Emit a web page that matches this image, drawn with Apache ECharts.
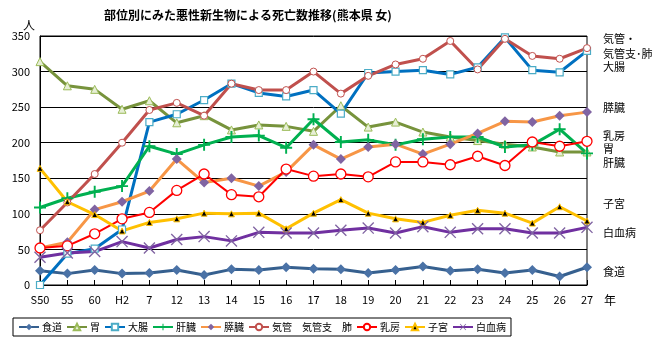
<!DOCTYPE html>
<html><head><meta charset="utf-8">
<script src="https://cdn.jsdelivr.net/npm/echarts@6/dist/echarts.min.js"></script>
<style>html,body{margin:0;padding:0;background:#fff}#c{width:661px;height:347px}</style>
</head><body><div id="c"></div>
<script>
const categories = ['S50','55','60','H2','7','12','13','14','15','16','17','18','19','20','21','22','23','24','25','26','27'];
const yTicks = [0,50,100,150,200,250,300,350];
const shokudo = [20,16,21,16,17,21,14,22,21,25,23,22,17,21,26,20,22,17,21,12,25];
const i_ = [314,280,275,247,259,228,238,218,225,223,216,252,222,229,215,208,203,198,194,187,187];
const daicho = [0,44,51,78,229,240,260,283,270,265,274,241,298,300,302,296,306,348,302,299,329];
const kanzo = [109,122,131,139,195,184,197,208,210,193,233,201,204,197,205,208,208,194,197,219,185];
const suizo = [52,60,106,117,132,177,144,150,139,159,197,177,194,198,184,198,213,230,229,238,243];
const hai = [77,116,156,200,246,256,238,283,274,274,300,269,294,310,318,343,303,346,322,318,333];
const nyubo = [52,55,72,93,102,133,156,127,124,163,153,156,152,173,173,169,181,168,201,195,202];
const shikyu = [164,117,99,76,88,93,101,100,101,79,101,120,101,93,88,98,105,101,87,110,90];
const hakketsu = [39,45,47,61,52,64,68,62,74,73,73,77,80,73,82,74,79,79,73,73,81];

const seriesNames = ['食道','胃','大腸','肝臓','膵臓','気管　気管支　肺','乳房','子宮','白血病'];
const rightLabels = [['気管・',40],['気管支･肺',55],['大腸',68],['膵臓',109],['乳房',137],['胃',150],['肝臓',164],['子宮',205],['白血病',234],['食道',273]];

const PLUS = 'path://M4.2,0H5.8V10H4.2Z M0,4.2H10V5.8H0Z';
const CROSS = 'path://M0,0.8L0.8,0L10,9.2L9.2,10Z M9.2,0L10,0.8L0.8,10L0,9.2Z';
const FONT = '"Noto Sans CJK JP", "Noto Sans", sans-serif';

function mk(name, data, lineColor, width, symbol, size, fill, border, bw){
  return {name, type:'line', data, symbol, symbolSize:size, showAllSymbol:true,
    lineStyle:{color:lineColor, width},
    itemStyle:{color:fill, borderColor:border, borderWidth:bw},
    emphasis:{disabled:true}, animation:false};
}

const chart = echarts.init(document.getElementById('c'));
chart.setOption({
  animation:false,
  textStyle:{fontFamily:FONT},
  title:{text:'部位別にみた悪性新生物による死亡数推移(熊本県 女)', left:243, top:4, textAlign:'center',
    textStyle:{fontSize:12, fontWeight:'bold', color:'#000', fontFamily:FONT}},
  grid:{left:40, right:74, top:36, bottom:62, show:true, borderColor:'#000', borderWidth:1, backgroundColor:'transparent'},
  xAxis:{type:'category', data:categories, boundaryGap:false,
    axisLine:{lineStyle:{color:'#000'}}, axisTick:{inside:true, length:5, lineStyle:{color:'#000'}},
    axisLabel:{color:'#000', fontSize:11, margin:9, interval:0}},
  yAxis:{type:'value', min:0, max:350, interval:50,
    axisLine:{show:true, lineStyle:{color:'#000'}}, axisTick:{show:false},
    axisLabel:{color:'#000', fontSize:11, margin:10, formatter:v=>yTicks.includes(v)?String(v):''},
    splitLine:{lineStyle:{color:'#000', width:1}}},
  legend:{left:13, top:318, orient:'horizontal', borderColor:'#000', borderWidth:1, padding:[4,5],
    itemWidth:20, itemHeight:8, itemGap:4, textStyle:{fontSize:10, color:'#000', fontFamily:FONT, padding:[0,0,0,-2]},
    data:seriesNames},
  graphic:[
    {type:'text', left:23, top:19, style:{text:'人', fill:'#000', font:'12px '+FONT}},
    {type:'text', left:604, top:294, style:{text:'年', fill:'#000', font:'12px '+FONT}}
  ].concat(rightLabels.map(([t,y])=>({type:'text', left:603, top:y-7, style:{text:t, fill:'#000', font:'11px '+FONT}}))),
  series:[
    mk(seriesNames[0], shokudo, '#36608f', 3, 'diamond', 10, '#4a72a6', '#4a72a6', 0),
    mk(seriesNames[1], i_, '#77933c', 3, 'triangle', 8, '#e6eed5', '#9bbb59', 1),
    mk(seriesNames[2], daicho, '#0070c0', 3, 'rect', 7, '#ffffff', '#4bacc6', 1.2),
    mk(seriesNames[3], kanzo, '#00b050', 3, PLUS, 12, '#00b050', '#00b050', 0),
    mk(seriesNames[4], suizo, '#f79646', 3, 'diamond', 10, '#8064a2', '#8064a2', 0),
    mk(seriesNames[5], hai, '#c0504d', 3, 'circle', 7, '#ffffff', '#c0504d', 1),
    mk(seriesNames[6], nyubo, '#ff0000', 2, 'circle', 10, '#ffffff', '#ff0000', 1.3),
    mk(seriesNames[7], shikyu, '#ffc000', 3, 'triangle', 6, '#000000', '#ffc000', 1),
    mk(seriesNames[8], hakketsu, '#7030a0', 3, CROSS, 12, '#8064a2', '#8064a2', 0)
  ]
});
</script></body></html>
